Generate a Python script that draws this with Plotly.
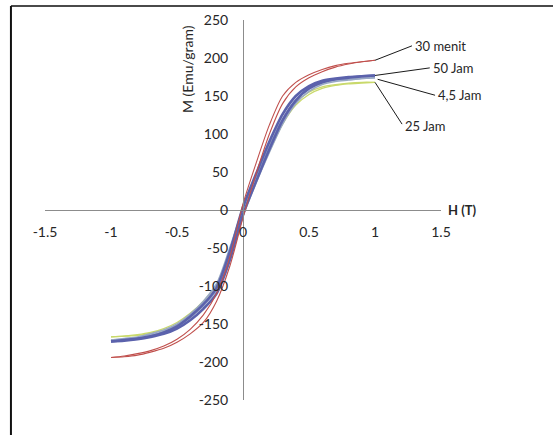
import plotly.graph_objects as go

# Applied field H (T), shared by every branch
field_h = [-1.0, -0.9, -0.8, -0.7, -0.6, -0.5, -0.4, -0.3, -0.2, -0.1, 0.0,
           0.1, 0.2, 0.3, 0.4, 0.5, 0.6, 0.7, 0.8, 0.9, 1.0]

# Magnetisation M (emu/gram): descending (from +H) and ascending (from -H) branches
m_30menit_down = [-194, -192, -189, -185, -179, -170, -157, -138, -110, -62, 8,
                  62, 112, 150, 168, 178, 185, 190, 193, 195, 197]
m_30menit_up = [-194, -193, -191, -187, -182, -174, -163, -148, -120, -74, -10,
                48, 100, 140, 162, 174, 182, 188, 192, 195, 197]

m_50jam_down = [-173, -171, -169, -166, -161, -153, -140, -124, -102, -55, 4,
                48, 90, 126, 150, 163, 170, 173, 175, 176, 177]
m_50jam_up = [-173, -172, -170, -167, -163, -156, -145, -130, -110, -66, -6,
              38, 80, 118, 144, 160, 168, 172, 174, 176, 177]

m_45jam_down = [-171, -169, -167, -163, -158, -150, -137, -120, -97, -50, 2,
                44, 84, 120, 145, 159, 167, 171, 172, 173, 174]
m_45jam_up = [-171, -170, -168, -165, -160, -153, -142, -126, -105, -60, -8,
              36, 76, 113, 140, 156, 165, 169, 171, 173, 174]

m_25jam_down = [-167, -166, -164, -161, -156, -148, -136, -120, -98, -52, 3,
                44, 84, 119, 142, 155, 162, 165, 167, 168, 168]
m_25jam_up = [-167, -166, -165, -162, -158, -151, -140, -125, -104, -60, -6,
              37, 77, 113, 138, 152, 160, 164, 166, 167, 168]

x_ticks = [-1.5, -1, -0.5, 0, 0.5, 1, 1.5]
x_tick_text = ["-1.5", "-1", "-0.5", "0", "0.5", "1", "1.5"]
y_ticks = [-250, -200, -150, -100, -50, 0, 50, 100, 150, 200, 250]
y_tick_text = ["-250", "-200", "-150", "-100", "-50", "0",
               "50", "100", "150", "200", "250"]

FONT = "Lato"
TXT = "#262626"

series = [
    ("25 Jam", m_25jam_down, m_25jam_up, "#c9d96b", 1.3),
    ("4,5 Jam", m_45jam_down, m_45jam_up, "#98a8c4", 1.6),
    ("50 Jam", m_50jam_down, m_50jam_up, "#5b62ac", 2.6),
    ("30 menit", m_30menit_down, m_30menit_up, "#c0504d", 1.1),
]

fig = go.Figure()
for name, down, up, color, width in series:
    for branch in (down, up):
        fig.add_trace(go.Scatter(
            x=field_h, y=branch, mode="lines", name=name,
            line=dict(color=color, width=width, shape="spline", smoothing=0.8),
            showlegend=False, hoverinfo="skip",
        ))

# Callout labels: (text, curve end point, label anchor point)
callouts = [
    ("30 menit", (1.0, m_30menit_down[-1]), (1.28, 216)),
    ("50 Jam", (1.0, m_50jam_down[-1]), (1.415, 187)),
    ("4,5 Jam", (1.02, m_45jam_down[-1] - 2), (1.455, 151)),
    ("25 Jam", (1.0, m_25jam_down[-1]), (1.205, 113)),
]
for text, (x0, y0), (x1, y1) in callouts:
    fig.add_shape(type="line", x0=x0, y0=y0, x1=x1, y1=y1, xref="x", yref="y",
                  line=dict(color="#1a1a1a", width=1))
    fig.add_annotation(x=x1, y=y1, text=text, showarrow=False, xanchor="left",
                       xshift=1, yshift=-2 if text == "25 Jam" else 0,
                       font=dict(family=FONT, size=13, color=TXT))

fig.add_annotation(xref="paper", yref="paper", x=1.012, y=0.5, text="<b>H (T)</b>",
                   showarrow=False, xanchor="left", yanchor="middle",
                   font=dict(family=FONT, size=13, color=TXT))
fig.add_annotation(xref="paper", yref="paper", x=0.36, y=0.87, text="M (Emu/gram)",
                   textangle=-90, showarrow=False, xanchor="center", yanchor="middle",
                   font=dict(family=FONT, size=14, color=TXT))

# Outer frame (top and left edges)
fig.add_shape(type="line", xref="paper", yref="paper", x0=-0.086, x1=1.3,
              y0=1.037, y1=1.037, line=dict(color="#4a4a4a", width=2))
fig.add_shape(type="line", xref="paper", yref="paper", x0=-0.086, x1=-0.086,
              y0=1.037, y1=-0.1, line=dict(color="#111111", width=2))

fig.update_layout(
    width=553, height=435,
    margin=dict(l=45, r=112, t=20, b=35),
    paper_bgcolor="white", plot_bgcolor="white",
    font=dict(family=FONT, size=13, color=TXT),
    xaxis=dict(range=[-1.5, 1.5], anchor="free", position=0.5,
               tickvals=x_ticks, ticktext=x_tick_text, ticks="",
               tickfont=dict(size=14),
               showline=True, linecolor="#8c8c8c", linewidth=1,
               showgrid=False, zeroline=False, ticklabelstandoff=9),
    yaxis=dict(range=[-250, 250], anchor="free", position=0.5,
               tickvals=y_ticks, ticktext=y_tick_text, ticks="",
               tickfont=dict(size=14),
               showline=True, linecolor="#8c8c8c", linewidth=1,
               showgrid=False, zeroline=False, ticklabelstandoff=12),
)

fig.write_html("out.html")
